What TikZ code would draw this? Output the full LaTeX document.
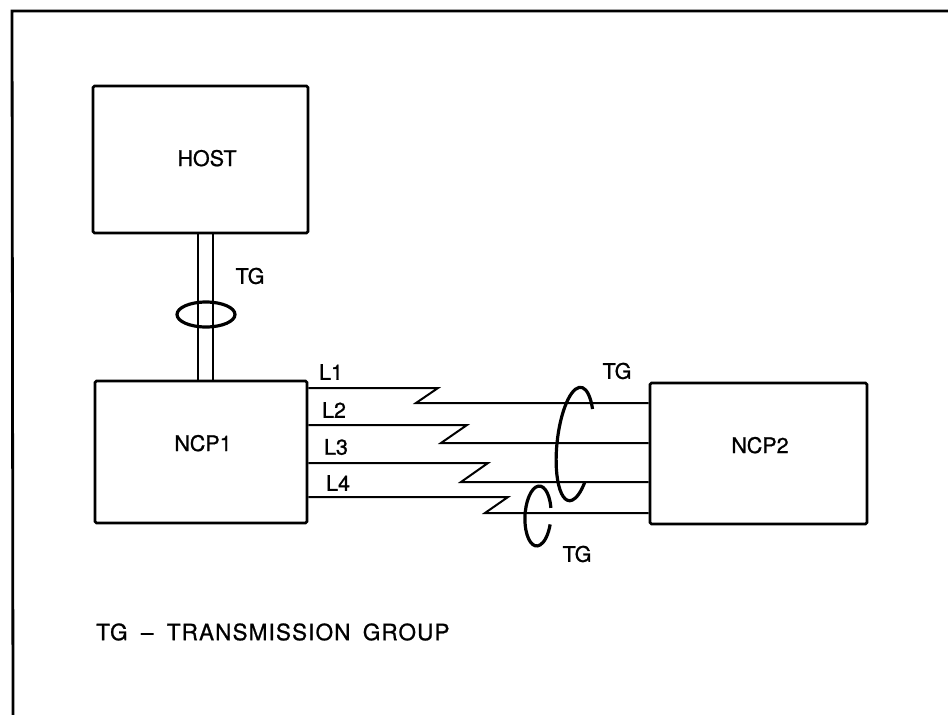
\documentclass[tikz,border=0pt]{standalone}
\usepackage{fontspec}
\setmainfont{TeX Gyre Heros}[FakeBold=0.9]
\newfontfamily\legendfont{TeX Gyre Heros}[FakeBold=0.9, LetterSpace=5]
\begin{document}
\begin{tikzpicture}[x=1pt,y=1pt,
  box/.style={draw, line width=2.8pt, rounded corners=1.5pt, inner sep=0pt, font=\fontsize{21.5}{25}\selectfont},
  lbl/.style={inner sep=0pt, font=\fontsize{21.5}{25}\selectfont},
  link/.style={line width=2pt, line join=miter},
  ring/.style={line width=3.2pt},
  frame/.style={line width=2.8pt}]
\useasboundingbox (0,0) rectangle (948,-715);
% frame
\coordinate (ftl) at (12,-11);
\coordinate (ftr) at (948,-11);
\coordinate (fbl) at (13,-715);
\draw[frame] (fbl) -- (ftl) -- (ftr);
% boxes
\node[box, minimum width=215pt, minimum height=147pt, text height=15pt, text depth=2pt] (host) at (200.5,-159.5) {\hspace*{13pt}HOST};
\node[box, minimum width=212pt, minimum height=142pt, text height=15pt, text depth=17pt] (ncp1) at (201,-452) {\hspace*{4pt}NCP1};
\node[box, minimum width=217pt, minimum height=141pt, text height=15pt, text depth=16pt] (ncp2) at (758.5,-453.5) {\hspace*{3pt}NCP2};
% host - ncp1 link
\draw[line width=1.7pt] (host.south -| 198,0) -- (ncp1.north -| 198,0);
\draw[line width=1.7pt] (host.south -| 213,0) -- (ncp1.north -| 213,0);
\draw[ring] (206,-314.5) ellipse [x radius=29, y radius=12.5];
\node[lbl] (tg1) at (250,-276) {TG};
% links L1..L4
\draw[link] (ncp1.east |- 0,-388) -- (438,-388) -- (416,-403) -- (ncp2.west |- 0,-403);
\draw[link] (ncp1.east |- 0,-425) -- (467,-425) -- (441,-443) -- (ncp2.west |- 0,-443);
\draw[link] (ncp1.east |- 0,-463) -- (488,-463) -- (461,-482) -- (ncp2.west |- 0,-482);
\draw[link] (ncp1.east |- 0,-497) -- (508,-497) -- (485,-513) -- (ncp2.west |- 0,-513);
\node[lbl] (l1) at (331,-372) {L1};
\node[lbl] (l2) at (334,-410) {L2};
\node[lbl] (l3) at (336,-447) {L3};
\node[lbl] (l4) at (338,-483) {L4};
% rings around links
\draw[ring, rotate around={-6:(575,-444)}] (575,-444) ++(40:18 and 57) arc[start angle=40, end angle=320, x radius=18, y radius=57];
\draw[ring, rotate around={-3:(538,-516)}] (538,-516) ++(17:13 and 30) arc[start angle=17, end angle=345, x radius=13, y radius=30];
\node[lbl] (tg2) at (617,-371) {TG};
\node[lbl] (tg3) at (577,-554) {TG};
% legend
\node[inner sep=0pt, anchor=west, font=\legendfont\fontsize{22.5}{26}\selectfont] (legend) at (96,-632) {TG\hspace{6pt} –\hspace{6pt} TRANSMISSION\hspace{5pt} GROUP};
\end{tikzpicture}
\end{document}
